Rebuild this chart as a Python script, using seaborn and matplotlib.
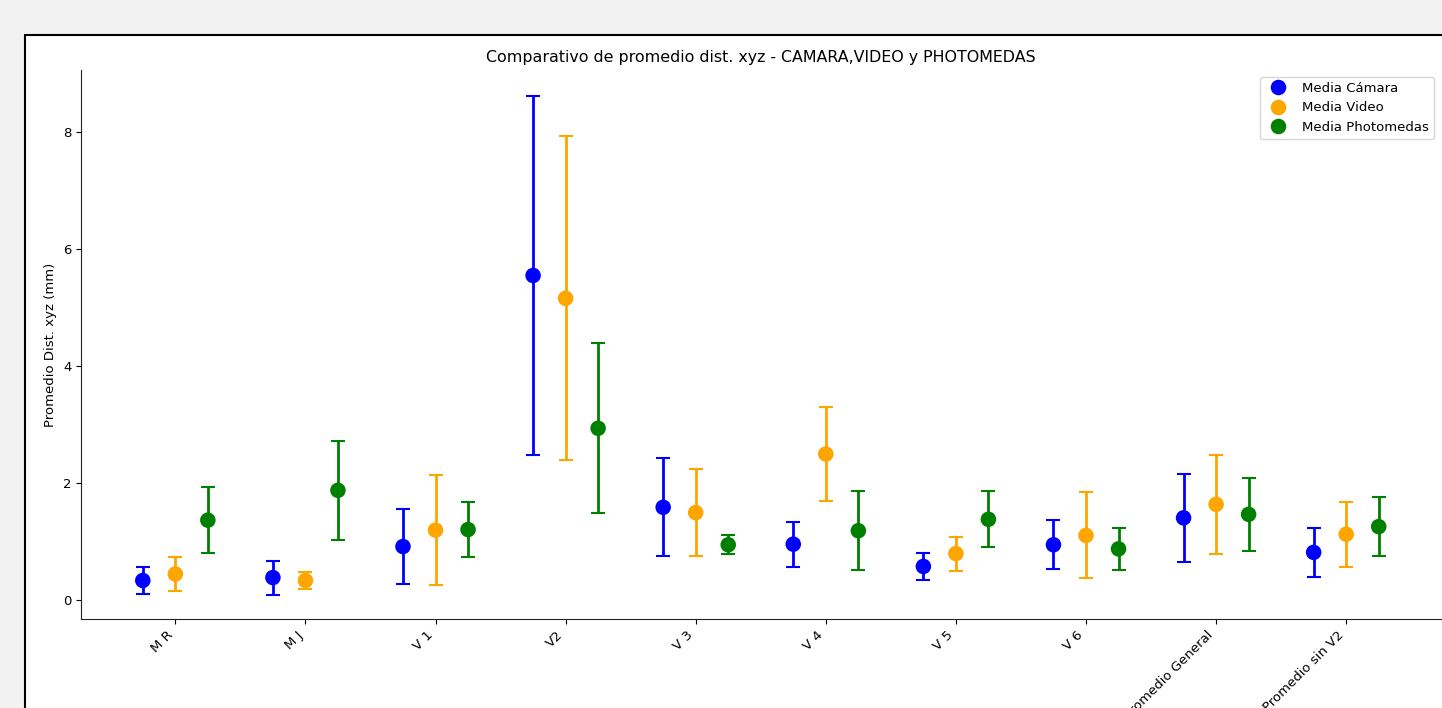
import numpy as np
import pandas as pd
import matplotlib
matplotlib.use("Agg")
import matplotlib.pyplot as plt
from matplotlib.patches import Rectangle
import seaborn as sns

# Categories and per-series means / standard deviations
categories = ["M R", "M J", "V 1", "V2", "V 3", "V 4", "V 5", "V 6",
              "Promedio General", "Promedio sin V2"]
series = ["Media Cámara", "Media Video", "Media Photomedas"]

camara_mean = [0.34, 0.39, 0.92, 5.55, 1.59, 0.96, 0.58, 0.95, 1.41, 0.82]
camara_std = [0.235, 0.29, 0.64, 3.07, 0.835, 0.385, 0.235, 0.42, 0.755, 0.425]
video_mean = [0.45, 0.34, 1.20, 5.16, 1.50, 2.50, 0.80, 1.11, 1.64, 1.13]
video_std = [0.29, 0.14, 0.94, 2.77, 0.745, 0.805, 0.29, 0.735, 0.84, 0.555]
photo_mean = [1.37, 1.88, 1.21, 2.94, 0.95, 1.19, 1.385, 0.88, 1.47, 1.26]
photo_std = [0.565, 0.84, 0.465, 1.45, 0.165, 0.67, 0.48, 0.36, 0.62, 0.50]

colors = {"Media Cámara": "blue", "Media Video": "orange", "Media Photomedas": "green"}
offsets = {"Media Cámara": -0.25, "Media Video": 0.0, "Media Photomedas": 0.25}

# Long-format table
rows = []
for name, means, stds in zip(series, [camara_mean, video_mean, photo_mean],
                             [camara_std, video_std, photo_std]):
    for i, cat in enumerate(categories):
        rows.append({"cat": cat, "idx": i, "serie": name, "mean": means[i], "std": stds[i]})
df = pd.DataFrame(rows)
df["x"] = df["idx"] + df["serie"].map(offsets)

sns.set_style("ticks", rc={"text.color": "black", "axes.labelcolor": "black",
                           "xtick.color": "black", "ytick.color": "black",
                           "axes.edgecolor": "#222222"})
plt.rcParams["font.size"] = 9.5
plt.rcParams["xtick.labelsize"] = 9.5
plt.rcParams["ytick.labelsize"] = 9.5
plt.rcParams["legend.fontsize"] = 9.5
plt.rcParams["axes.labelsize"] = 9.5

fig = plt.figure(figsize=(14.42, 7.08), dpi=100, facecolor="#f2f2f2")

# white framed panel (screenshot look), cut at right/bottom
frame = Rectangle((25 / 1442, -0.2), 1.2, 1.2 - 34.5 / 708, transform=fig.transFigure,
                  facecolor="white", edgecolor="black", linewidth=1.5, zorder=-10)
fig.patches.append(frame)

ax = fig.add_axes([81 / 1442, 1 - 619 / 708, 1359.5 / 1442, (619 - 70) / 708])
ax.set_facecolor("white")

for name in series:
    sub = df[df["serie"] == name]
    ax.errorbar(sub["x"], sub["mean"], yerr=sub["std"], fmt="none",
                ecolor=colors[name], elinewidth=2, capsize=5, capthick=1.5, zorder=2)

sns.scatterplot(data=df, x="x", y="mean", hue="serie", palette=colors,
                s=125, edgecolor="none", ax=ax, zorder=3)

ax.set_xticks(range(len(categories)))
ax.set_xticklabels(categories, rotation=45, ha="right")
ax.set_xlim(-0.725, 9.725)
ax.set_ylim(-0.318, 9.06)
ax.set_yticks([0, 2, 4, 6, 8])
ax.set_xlabel("")
ax.set_ylabel("Promedio Dist. xyz (mm)")
ax.set_title("Comparativo de promedio dist. xyz - CAMARA,VIDEO y PHOTOMEDAS", fontsize=11.4)
ax.legend(loc="upper right", title=None)
sns.despine(ax=ax)

fig.savefig("out.png", dpi=100, facecolor=fig.get_facecolor())
